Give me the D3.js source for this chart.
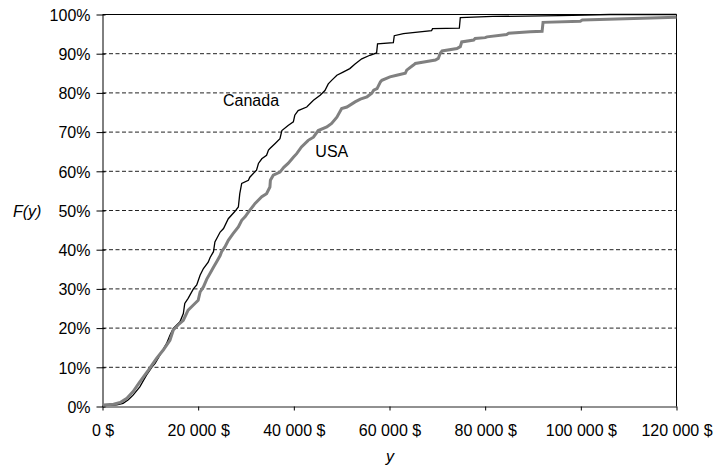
<!DOCTYPE html>
<html>
<head>
<meta charset="utf-8">
<script src="https://cdn.jsdelivr.net/npm/d3@7"></script>
<style>
  html, body { margin: 0; padding: 0; background: #fff; }
  svg { display: block; font-family: "Liberation Sans", Arial, Helvetica, sans-serif; }
</style>
</head>
<body>
<svg id="chart" width="717" height="471"></svg>
<script>
// ---- data ----
const xTicks = [0, 20000, 40000, 60000, 80000, 100000, 120000];
const yTicks = [0, 0.1, 0.2, 0.3, 0.4, 0.5, 0.6, 0.7, 0.8, 0.9, 1.0];

const canadaIncome = [0, 200, 3000, 4300, 5400, 6400, 7800, 9200, 10300, 11000, 12000, 13400, 14100, 14800,
  16200, 16900, 17200, 17900, 19000, 19700, 20400, 21100, 22100, 22500, 23200, 23500, 24600, 25300, 26300,
  27700, 28400, 28700, 29100, 30500, 30800, 32200, 32600, 33300, 34300, 34700, 35000, 36100, 37100, 37500,
  38800, 39900, 40200, 40900, 42700, 44100, 45500, 46500, 47200, 47900, 49000, 50300, 51700, 52800, 54200,
  55900, 57300, 57500, 60800, 61000, 62900, 68800, 69000, 74600, 74800, 81600, 95600, 106100, 120000];
const canadaCdf = [0, 0.2, 0.4, 0.8, 1.7, 2.9, 5.0, 8.0, 10.0, 11.0, 13.1, 16.1, 18.2, 19.9,
  21.6, 23.7, 26.3, 27.6, 30.0, 31.0, 33.5, 35.2, 36.8, 38.0, 39.5, 42.0, 44.5, 45.4, 47.9,
  49.8, 50.9, 54.3, 56.9, 57.7, 58.5, 60.3, 62.0, 63.2, 64.1, 65.4, 65.8, 67.1, 68.3, 70.4,
  71.7, 72.6, 74.3, 75.5, 76.4, 78.1, 79.4, 80.6, 82.3, 83.2, 84.5, 85.3, 86.2, 87.4, 88.7,
  89.6, 90.2, 92.5, 92.8, 94.6, 95.1, 95.9, 96.4, 96.5, 99.2, 99.5, 99.7, 100, 100];

const usaIncome = [0, 200, 2300, 3700, 5100, 6400, 7800, 9600, 11300, 12700, 14100, 14800, 15800, 16900,
  17900, 19000, 20000, 20400, 21100, 21800, 22500, 23200, 23900, 24600, 24900, 25600, 26300, 27300, 28400,
  29100, 29800, 30500, 31900, 33300, 34300, 35000, 35100, 35700, 37100, 37900, 38800, 39900, 40600, 41600,
  43000, 44100, 45100, 46900, 47900, 49000, 50000, 51100, 52800, 53900, 55300, 56300, 56700, 57400, 58100,
  58400, 60100, 61500, 63300, 63600, 65000, 65400, 67800, 69600, 70200, 70600, 71000, 74100, 74800, 75100,
  77600, 77900, 80000, 80400, 84500, 84900, 89400, 91900, 92100, 99900, 100300, 120000];
const usaCdf = [0.3, 0.4, 0.6, 1.0, 2.1, 3.8, 6.3, 9.3, 12.3, 14.4, 16.9, 19.5, 20.8, 22.0,
  24.6, 25.9, 27.1, 29.2, 30.5, 32.5, 34.0, 35.5, 37.0, 38.5, 39.5, 40.7, 42.4, 44.1, 45.8,
  47.5, 48.4, 49.6, 51.8, 53.5, 54.3, 56.0, 57.7, 59.0, 59.8, 61.0, 62.0, 63.6, 64.5, 66.2,
  67.9, 68.7, 70.4, 71.3, 72.2, 73.8, 76.0, 76.4, 77.7, 78.4, 79.0, 79.9, 80.7, 81.1, 82.8,
  83.2, 84.1, 84.5, 85.0, 85.8, 87.1, 87.5, 88.0, 88.4, 88.8, 90.1, 90.7, 91.3, 91.8, 93.0,
  93.5, 93.9, 94.1, 94.3, 94.9, 95.2, 95.6, 95.7, 98.0, 98.3, 98.6, 99.3];

const seriesNames = ["Canada", "USA"];

// ---- layout ----
const svg = d3.select("#chart");
const plotLeft = 102, plotRight = 676, plotTop = 14, plotBottom = 406;

const x = d3.scaleLinear().domain([0, 120000]).range([plotLeft, plotRight]);
const y = d3.scaleLinear().domain([0, 1]).range([plotBottom, plotTop]);

const g = svg.append("g").attr("transform", "translate(0.5,0.5)");

// gridlines (dashed)
g.append("g").selectAll("line")
  .data(yTicks.filter(d => d > 0 && d < 1))
  .join("line")
  .attr("x1", plotLeft).attr("x2", plotRight)
  .attr("y1", d => y(d)).attr("y2", d => y(d))
  .attr("stroke", "#222").attr("stroke-width", 1)
  .attr("stroke-dasharray", "4,2.5");

// frame top and right
g.append("line").attr("x1", plotLeft).attr("x2", plotRight).attr("y1", plotTop).attr("y2", plotTop)
  .attr("stroke", "#000").attr("stroke-width", 1);
g.append("line").attr("x1", plotRight).attr("x2", plotRight).attr("y1", plotTop).attr("y2", plotBottom)
  .attr("stroke", "#000").attr("stroke-width", 1);

const fmtMoney = d => d3.format(",")(d).replace(/,/g, " ") + " $";
const fmtPct = d => d3.format(".0%")(d);

// x axis
const xAxis = g.append("g")
  .attr("transform", `translate(0,${plotBottom})`)
  .call(d3.axisBottom(x).tickValues(xTicks).tickFormat(fmtMoney).tickSize(4).tickPadding(14).tickSizeOuter(0));
xAxis.select(".domain").attr("stroke", "#222");
xAxis.selectAll("text").attr("font-size", "16px").attr("fill", "#000")
  .attr("font-family", "'Liberation Sans', Arial, sans-serif");

// y axis
const yAxis = g.append("g")
  .attr("transform", `translate(${plotLeft},0)`)
  .call(d3.axisLeft(y).tickValues(yTicks).tickFormat(fmtPct).tickSize(6).tickPadding(6).tickSizeOuter(0));
yAxis.selectAll(".tick line").attr("x2", -6).attr("x1", 3);
yAxis.select(".domain").attr("stroke", "#000");
yAxis.selectAll("text").attr("font-size", "16px").attr("fill", "#000").attr("dy", "0.36em")
  .attr("font-family", "'Liberation Sans', Arial, sans-serif");

// lines
const line = d3.line()
  .x(d => x(d[0]))
  .y(d => y(d[1] / 100))
  .curve(d3.curveLinear);

const canadaData = canadaIncome.map((v, i) => [v, canadaCdf[i]]);
const usaData = usaIncome.map((v, i) => [v, usaCdf[i]]);

g.append("path").datum(canadaData)
  .attr("d", line).attr("fill", "none")
  .attr("stroke", "#000").attr("stroke-width", 1.3).attr("stroke-linejoin", "miter");

g.append("path").datum(usaData)
  .attr("d", line).attr("fill", "none")
  .attr("stroke", "#808080").attr("stroke-width", 3).attr("stroke-linejoin", "miter");

// series labels
svg.append("text").attr("x", x(25300)).attr("y", y(0.765))
  .attr("font-size", "16px").attr("fill", "#000").text(seriesNames[0]);
svg.append("text").attr("x", x(44600)).attr("y", y(0.636))
  .attr("font-size", "16px").attr("fill", "#000").text(seriesNames[1]);

// axis titles
svg.append("text").attr("x", 13).attr("y", y(0.5) + 6.5)
  .attr("font-size", "16px").attr("font-style", "italic").attr("fill", "#000").text("F(y)");
svg.append("text").attr("x", 390).attr("y", 462).attr("text-anchor", "middle")
  .attr("font-size", "16px").attr("font-style", "italic").attr("fill", "#000").text("y");
</script>
</body>
</html>
